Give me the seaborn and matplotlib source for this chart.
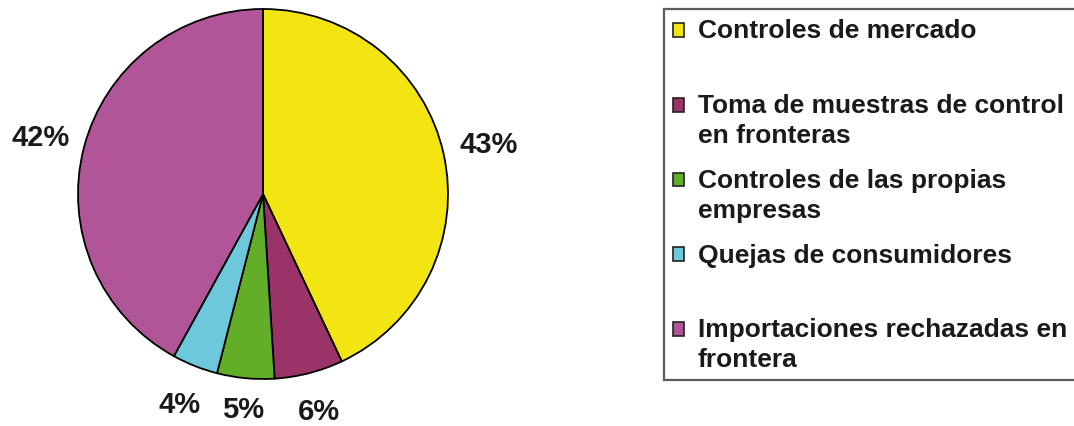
import matplotlib
matplotlib.use("Agg")
import matplotlib.pyplot as plt
import seaborn as sns

# datos del gráfico
categorias = [
    "Controles de mercado\n ",
    "Toma de muestras de control\nen fronteras",
    "Controles de las propias\nempresas",
    "Quejas de consumidores\n ",
    "Importaciones rechazadas en\nfrontera",
]
porcentajes = [43, 6, 5, 4, 42]
colores = ["#F2E512", "#9A3368", "#62AE28", "#6CC8DA", "#B05598"]
# distancia de cada etiqueta al centro (en radios)
dist_etiquetas = [1.25, 1.21, 1.17, 1.22, 1.24]

sns.set_theme(style="white")
plt.rcParams["font.family"] = ["Liberation Sans", "DejaVu Sans"]

fig = plt.figure(figsize=(10.74, 4.27), dpi=100)
ax = fig.add_axes([78 / 1074, 47 / 427, 370 / 1074, 370 / 427])

wedges, textos, autotextos = ax.pie(
    porcentajes,
    colors=sns.color_palette(colores),
    startangle=90,
    counterclock=False,
    autopct="%.0f%%",
    pctdistance=1.23,
    wedgeprops={"edgecolor": "black", "linewidth": 1.3},
    textprops={"fontsize": 21, "fontweight": "bold", "color": "#1a1a1a"},
)
# ajustar la distancia radial de cada porcentaje
for t, d in zip(autotextos, dist_etiquetas):
    x, y = t.get_position()
    r = (x ** 2 + y ** 2) ** 0.5
    t.set_position((x * d / r, y * d / r))

ax.set_xlim(-1.0, 1.0)
ax.set_ylim(-1.0, 1.0)
ax.set_aspect("equal")

leg = fig.legend(
    wedges,
    categorias,
    loc="upper left",
    bbox_to_anchor=(664 / 1074, 1 - 10 / 427),
    borderaxespad=0,
    frameon=True,
    fancybox=False,
    shadow=False,
    prop={"size": 19, "weight": "bold"},
    handlelength=0.42,
    handleheight=0.42,
    handletextpad=0.5,
    borderpad=0.35,
    labelspacing=0.8,
)
leg.get_frame().set_edgecolor("#333333")
leg.get_frame().set_linewidth(1.6)
for t in leg.get_texts():
    t.set_color("#1a1a1a")
    t.set_linespacing(1.3)
# subir el cuadrito al nivel de la primera línea
for h in leg.legend_handles:
    h.set_edgecolor("#222222")
    h.set_linewidth(1.2)
    h.set_y(h.get_y() + 11)

fig.savefig("out.png", dpi=100)
